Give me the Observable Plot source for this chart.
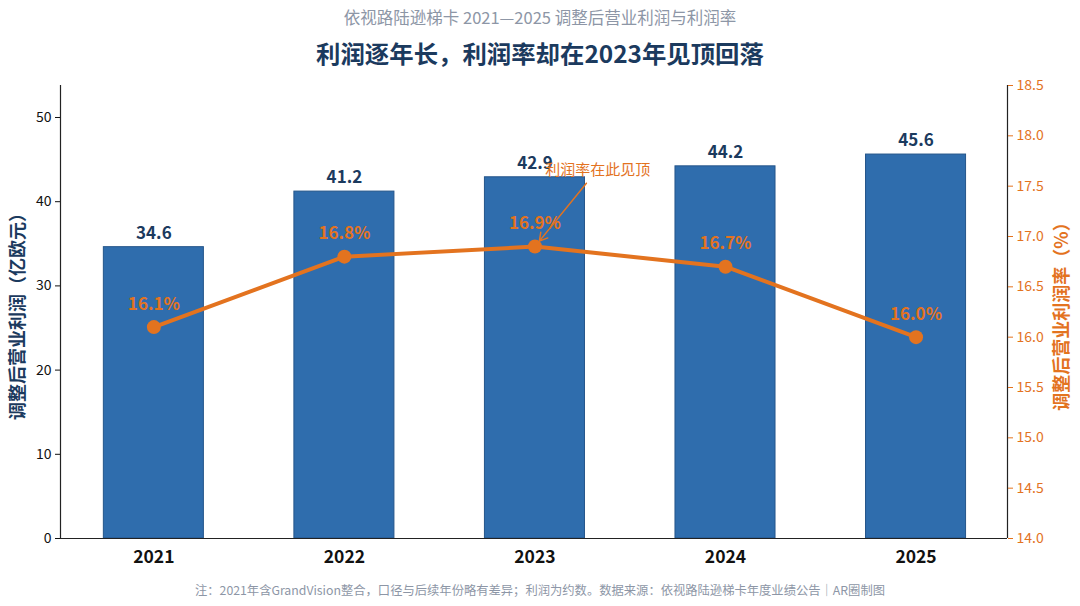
<!DOCTYPE html>
<html><head><meta charset="utf-8">
<script src="https://cdn.jsdelivr.net/npm/d3@7"></script>
<script src="https://cdn.jsdelivr.net/npm/@observablehq/plot@0.6"></script>
<style>
body{margin:0;background:#fff;font-family:"Noto Sans CJK SC","Noto Sans",sans-serif;width:1080px;overflow:hidden}
.sub{height:34px;line-height:34px;text-align:center;color:#8d96a6;font-size:16.5px}
.ttl{height:38px;line-height:38px;text-align:center;color:#1b3a5e;font-size:24.4px;font-weight:700}
.foot{height:28px;line-height:28px;text-align:center;color:#8d96a6;font-size:12.3px}
svg{display:block}
</style></head><body>
<div class="sub">依视路陆逊梯卡 2021—2025 调整后营业利润与利润率</div>
<div class="ttl">利润逐年长，利润率却在2023年见顶回落</div>
<div id="chart"></div>
<div class="foot">注：2021年含GrandVision整合，口径与后续年份略有差异；利润为约数。数据来源：依视路陆逊梯卡年度业绩公告｜AR圈制图</div>
<script>
const years = ["2021","2022","2023","2024","2025"];
const profit = [34.6, 41.2, 42.9, 44.2, 45.6];
const margin = [16.1, 16.8, 16.9, 16.7, 16.0];
const leftTicks = [0,10,20,30,40,50];
const rightTicks = [14.0,14.5,15.0,15.5,16.0,16.5,17.0,17.5,18.0,18.5];
const note = {text:"利润率在此见顶", x:2.33, y:43.7, x1:2.27, y1:42.2, idx:2};

const yMax = 53.8, rMin = 14.0, rMax = 18.5;
const xLo = -0.49, xHi = 4.48;
const toLeft = p => (p - rMin) / (rMax - rMin) * yMax;

const navy = "#1b3a5e", blue = "#2f6dad", orange = "#e3731f";
const data = years.map((y,i)=>({i, year:y, profit:profit[i], margin:margin[i], m:toLeft(margin[i])}));

const chart = Plot.plot({
  width:1080, height:504,
  marginTop:13, marginBottom:38, marginLeft:60, marginRight:73,
  style:{fontFamily:'"Noto Sans CJK SC","Noto Sans",sans-serif', background:"#fff"},
  x:{type:"linear", domain:[xLo,xHi], axis:null},
  y:{domain:[0,yMax], axis:null},
  marks:[
    Plot.rectY(data,{x1:d=>d.i-0.2625, x2:d=>d.i+0.2625, y1:0, y2:"profit", fill:blue, stroke:"#24558a", strokeWidth:1}),
    Plot.text(data,{x:"i", y:"profit", text:d=>d.profit.toFixed(1), dy:-14, fill:navy, fontSize:17, fontWeight:700}),
    Plot.line(data,{x:"i", y:"m", stroke:orange, strokeWidth:4}),
    Plot.dot(data,{x:"i", y:"m", r:7, fill:orange}),
    Plot.text(data,{x:"i", y:"m", text:d=>d.margin.toFixed(1)+"%", dy:-23, fill:orange, fontSize:17, fontWeight:700}),
    Plot.arrow([note],{x1:"x1", y1:"y1", x2:()=>note.idx, y2:()=>toLeft(margin[note.idx]), stroke:orange, strokeWidth:1.5, insetEnd:7, headLength:9, bend:false}),
    Plot.text([note],{x:"x", y:"y", text:"text", fill:orange, fontSize:15}),
    // left axis
    Plot.ruleX([xLo],{stroke:"#222", strokeWidth:1.2}),
    Plot.axisY({ticks:leftTicks, tickSize:5, fontSize:14, color:"#111", anchor:"left", label:null}),
    Plot.text(["调整后营业利润（亿欧元）"],{frameAnchor:"left", textAnchor:"middle", dx:-42, rotate:-90, fill:navy, fontSize:18, fontWeight:700}),
    // right axis
    Plot.ruleX([xHi],{stroke:"#222", strokeWidth:1.2}),
    Plot.axisY({anchor:"right", ticks:rightTicks.map(toLeft), tickFormat:v=>(rMin + v/yMax*(rMax-rMin)).toFixed(1), tickSize:5, fontSize:14, color:orange, label:null}),
    Plot.text(["调整后营业利润率（%）"],{frameAnchor:"right", textAnchor:"middle", dx:55, rotate:-90, fill:orange, fontSize:18, fontWeight:700}),
    // bottom
    Plot.ruleY([0],{stroke:"#222", strokeWidth:1.2}),
    Plot.axisX({ticks:[0,1,2,3,4], tickFormat:i=>years[i], tickSize:0, fontSize:17.5, fontWeight:700, color:"#111", tickPadding:12, label:null})
  ]
});
document.getElementById("chart").appendChild(chart);
</script>
</body></html>
